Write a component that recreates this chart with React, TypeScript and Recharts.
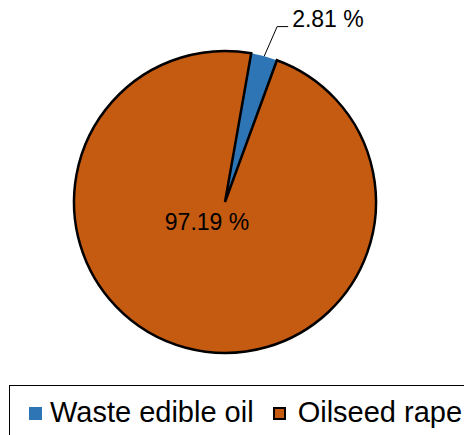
import { PieChart, Pie, Cell, Legend } from 'recharts';

const categories = ['Waste edible oil', 'Oilseed rape'];
const shares = [2.81, 97.19];
const colors = ['#2E75B6', '#C55A11'];
const strokes = ['none', '#000000'];

const data = categories.map((name, i) => ({ name, value: shares[i] }));

const FONT = 'Arial, "Liberation Sans", sans-serif';
const RAD = Math.PI / 180;

function renderLabel(props: any) {
  const { cx, cy, midAngle, outerRadius, index, value } = props;
  const text = `${value.toFixed(2)} %`;
  if (index === 0) {
    // small slice: leader line going out, then a short flat bit
    const sx = cx + outerRadius * Math.cos(-midAngle * RAD);
    const sy = cy + outerRadius * Math.sin(-midAngle * RAD);
    const ex = cx + (outerRadius + 32) * Math.cos(-(midAngle - 1.5) * RAD);
    const ey = cy + (outerRadius + 32) * Math.sin(-(midAngle - 1.5) * RAD);
    return (
      <g>
        <polyline points={`${sx},${sy} ${ex},${ey} ${ex + 11},${ey}`} fill="none" stroke="#000" strokeWidth={1} />
        <text x={ex + 15} y={ey} fill="#000" fontSize={23} fontFamily={FONT} textAnchor="start">
          {text}
        </text>
      </g>
    );
  }
  return (
    <text x={cx - 18} y={cy + 28} fill="#000" fontSize={23} fontFamily={FONT} textAnchor="middle">
      {text}
    </text>
  );
}

// legend drawn in the same order as the data (recharts sorts its payload by name)
function LegendBox() {
  return (
    <div
      style={{
        border: '1px solid #000',
        height: 60,
        boxSizing: 'border-box',
        display: 'flex',
        alignItems: 'flex-start',
        paddingLeft: 19,
        paddingTop: 10,
        fontFamily: FONT,
        fontSize: 29,
        lineHeight: '33px',
        color: '#000',
        whiteSpace: 'nowrap',
      }}
    >
      {categories.map((name, i) => (
        <div key={name} style={{ display: 'flex', alignItems: 'center', marginRight: 19 }}>
          <span
            style={{
              display: 'inline-block',
              width: 13,
              height: 13,
              boxSizing: 'border-box',
              background: colors[i],
              border: strokes[i] === 'none' ? 'none' : `2px solid ${strokes[i]}`,
              marginRight: i === 1 ? 12 : 8,
              marginTop: 2,
            }}
          />
          <span>{name}</span>
        </div>
      ))}
    </div>
  );
}

export default function App() {
  return (
    <div style={{ position: 'absolute', left: 0, top: 0, width: 464, height: 435, background: '#fff', overflow: 'hidden' }}>
      <PieChart width={464} height={435} margin={{ top: 0, right: 0, bottom: 0, left: 0 }}>
        <Pie
          data={data}
          dataKey="value"
          nameKey="name"
          cx={225}
          cy={202}
          outerRadius={151}
          startAngle={80}
          endAngle={-280}
          label={renderLabel}
          labelLine={false}
          isAnimationActive={false}
        >
          {data.map((d, i) => (
            <Cell key={d.name} fill={colors[i]} stroke={strokes[i]} strokeWidth={2.5} />
          ))}
        </Pie>
        <Legend
          content={<LegendBox />}
          wrapperStyle={{ left: 9, top: 385, width: 480, height: 60, bottom: 'auto' }}
        />
      </PieChart>
    </div>
  );
}
